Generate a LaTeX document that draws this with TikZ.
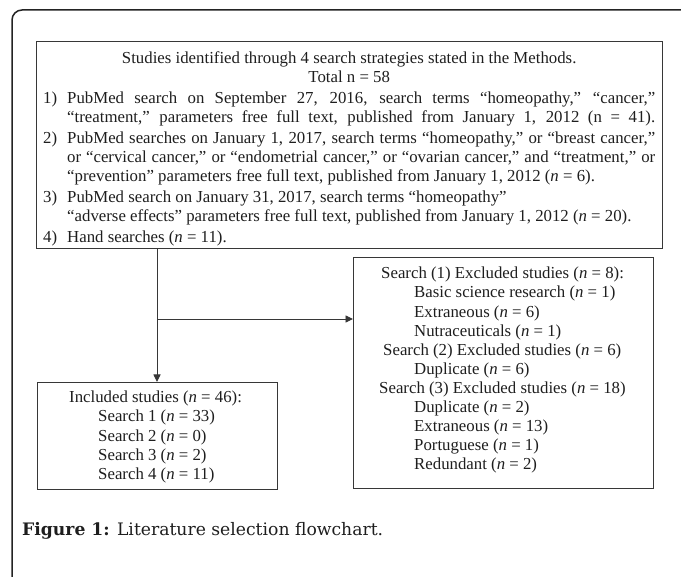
\documentclass[tikz,border=0pt]{standalone}
\usepackage{fontspec}
\usepackage{xcolor}
\setmainfont{Liberation Serif}
\newfontfamily\captionfont{DejaVu Serif}
\usetikzlibrary{arrows.meta}
\definecolor{FrameGray}{RGB}{35, 35, 35}
\definecolor{BoxGray}{RGB}{55, 55, 55}
\definecolor{InkGray}{RGB}{30, 30, 30}

\tikzset{
  flowbox/.style={draw=BoxGray, line width=1.1pt, anchor=north west, inner sep=0pt},
  boxtext/.style={anchor=north west, inner sep=0pt, align=left, text=InkGray,
    font=\fontsize{16.8}{19.1}\selectfont},
  flowline/.style={draw=BoxGray, line width=0.9pt},
  flowarrow/.style={flowline, -{Triangle[length=7.5pt, width=7pt]}}
}

\begin{document}
\begin{tikzpicture}[x=1pt, y=-1pt]
\useasboundingbox (0,0) rectangle (681,577);

% Outer frame
\draw[FrameGray, line width=1.5pt, rounded corners=10pt] (681,10) -- (12,10) -- (12,577);

% Boxes
\node[flowbox, minimum width=626pt, minimum height=207pt] (search) at (36,41) {};
\node[flowbox, minimum width=300pt, minimum height=231pt] (excluded) at (353,257) {};
\node[flowbox, minimum width=240pt, minimum height=107pt] (included) at (37,382) {};

% Box texts
\node[boxtext] (search-text) at ([shift={(7,10)}]search.north west) {%
\makebox[612pt][c]{Studies identified through 4 search strategies stated in the Methods.}\\
\makebox[612pt][c]{Total n = 58}\\[2pt]
\makebox[24pt][l]{1)}\makebox[588pt][s]{PubMed search on September 27, 2016, search terms “homeopathy,” “cancer,”}\\
\hspace*{24pt}\makebox[588pt][s]{“treatment,” parameters free full text, published from January 1, 2012 (n = 41).}\\[2pt]
\makebox[24pt][l]{2)}\makebox[588pt][s]{PubMed searches on January 1, 2017, search terms “homeopathy,” or “breast cancer,”}\\
\hspace*{24pt}\makebox[588pt][s]{or “cervical cancer,” or “endometrial cancer,” or “ovarian cancer,” and “treatment,” or}\\
\hspace*{24pt}“prevention” parameters free full text, published from January 1, 2012 (\textit{n} = 6).\\[2pt]
\makebox[24pt][l]{3)}PubMed search on January 31, 2017, search terms “homeopathy”\\
\hspace*{24pt}“adverse effects” parameters free full text, published from January 1, 2012 (\textit{n} = 20).\\[2pt]
\makebox[24pt][l]{4)}Hand searches (\textit{n} = 11).};

\node[boxtext] (excluded-text) at ([shift={(28,10)}]excluded.north west) {%
Search (1) Excluded studies (\textit{n} = 8):\\
\hspace*{33pt}Basic science research (\textit{n} = 1)\\
\hspace*{33pt}Extraneous (\textit{n} = 6)\\
\hspace*{33pt}Nutraceuticals (\textit{n} = 1)\\
\hspace*{2pt}Search (2) Excluded studies (\textit{n} = 6)\\
\hspace*{33pt}Duplicate (\textit{n} = 6)\\
\hspace*{-2pt}Search (3) Excluded studies (\textit{n} = 18)\\
\hspace*{33pt}Duplicate (\textit{n} = 2)\\
\hspace*{33pt}Extraneous (\textit{n} = 13)\\
\hspace*{33pt}Portuguese (\textit{n} = 1)\\
\hspace*{33pt}Redundant (\textit{n} = 2)};

\node[boxtext] (included-text) at ([shift={(32,9)}]included.north west) {%
Included studies (\textit{n} = 46):\\
\hspace*{29pt}Search 1 (\textit{n} = 33)\\
\hspace*{29pt}Search 2 (\textit{n} = 0)\\
\hspace*{29pt}Search 3 (\textit{n} = 2)\\
\hspace*{29pt}Search 4 (\textit{n} = 11)};

% Connectors
\coordinate (split) at (157,319);
\draw[flowline] (search.south -| split) -- (split);
\draw[flowarrow] (split) -- (included.north -| split);
\draw[flowarrow] (split) -- (excluded.west |- split);

% Caption
\node[anchor=west, inner sep=0pt, text=InkGray, font=\captionfont\fontsize{17.2}{20}\selectfont]
  (caption) at (22,531) {\textbf{Figure 1:} Literature selection flowchart.};

\end{tikzpicture}
\end{document}
